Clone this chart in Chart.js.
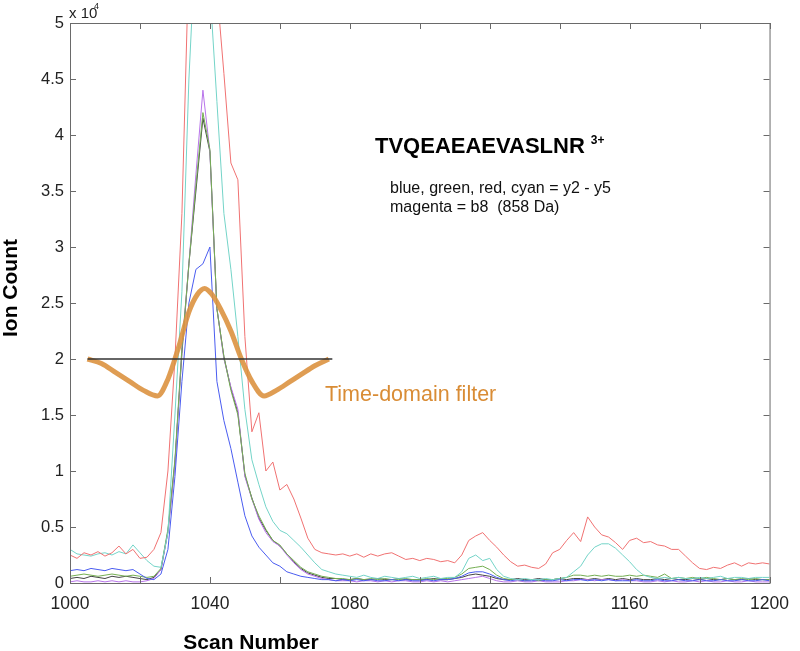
<!DOCTYPE html>
<html>
<head>
<meta charset="utf-8">
<script src="https://cdn.jsdelivr.net/npm/chart.js@4.4.0/dist/chart.umd.min.js"></script>
<style>
  html, body { margin: 0; padding: 0; background: #fff; }
</style>
</head>
<body>
<canvas id="ions" width="800" height="651"></canvas>
<script>
// scan numbers, every 2nd scan from 1000 to 1200
const scans = Array.from({ length: 101 }, (_, i) => 1000 + 2 * i);

// ion counts, in units of 10^4
const red = [
  0.25, 0.22, 0.27, 0.25, 0.28, 0.24, 0.27, 0.33, 0.26, 0.30,
  0.22, 0.23, 0.30, 0.45, 1.00, 2.00, 3.30, 5.60, 6.20, 6.50,
  6.30, 5.30, 4.55, 3.75, 3.60, 2.20, 1.35, 1.52, 1.00, 1.08,
  0.83, 0.88, 0.75, 0.58, 0.40, 0.30, 0.27, 0.26, 0.25, 0.26,
  0.24, 0.26, 0.23, 0.26, 0.24, 0.26, 0.27, 0.24, 0.21, 0.22,
  0.20, 0.22, 0.21, 0.19, 0.20, 0.18, 0.25, 0.38, 0.42, 0.45,
  0.38, 0.32, 0.25, 0.19, 0.15, 0.16, 0.14, 0.13, 0.17, 0.27,
  0.30, 0.38, 0.45, 0.37, 0.59, 0.50, 0.43, 0.41, 0.36, 0.30,
  0.38, 0.40, 0.36, 0.37, 0.34, 0.33, 0.30, 0.30, 0.24, 0.18,
  0.13, 0.12, 0.14, 0.13, 0.16, 0.18, 0.15, 0.18, 0.17, 0.18,
  0.17
];
const cyan = [
  0.30, 0.26, 0.25, 0.24, 0.26, 0.27, 0.25, 0.28, 0.26, 0.34,
  0.27, 0.20, 0.15, 0.14, 0.45, 1.50, 2.60, 4.50, 5.80, 6.00,
  5.30, 4.30, 3.30, 2.80, 2.20, 1.55, 1.10, 0.88, 0.68, 0.55,
  0.47, 0.44, 0.38, 0.32, 0.25, 0.18, 0.12, 0.10, 0.08, 0.07,
  0.06, 0.05, 0.07, 0.05, 0.04, 0.06, 0.05, 0.04, 0.05, 0.06,
  0.04, 0.05, 0.06, 0.04, 0.05, 0.05, 0.10, 0.22, 0.25, 0.20,
  0.22, 0.12, 0.06, 0.04, 0.03, 0.04, 0.03, 0.03, 0.04, 0.03,
  0.04, 0.05, 0.10, 0.15, 0.25, 0.32, 0.35, 0.35, 0.31, 0.25,
  0.19, 0.12, 0.07, 0.05, 0.04, 0.05, 0.04, 0.05, 0.04, 0.04,
  0.05, 0.04, 0.05, 0.06, 0.04, 0.05, 0.05, 0.04, 0.05, 0.05,
  0.05
];
const magenta = [
  0.01, 0.02, 0.01, 0.01, 0.02, 0.01, 0.02, 0.01, 0.02, 0.01,
  0.01, 0.02, 0.04, 0.12, 0.45, 1.05, 2.10, 2.85, 3.65, 4.40,
  3.85, 2.45, 2.00, 1.75, 1.55, 0.95, 0.75, 0.57, 0.45, 0.37,
  0.33, 0.25, 0.18, 0.12, 0.08, 0.06, 0.04, 0.03, 0.02, 0.02,
  0.02, 0.01, 0.02, 0.02, 0.01, 0.02, 0.01, 0.02, 0.02, 0.01,
  0.01, 0.02, 0.01, 0.02, 0.01, 0.02, 0.03, 0.04, 0.05, 0.06,
  0.04, 0.02, 0.01, 0.01, 0.02, 0.01, 0.01, 0.02, 0.01, 0.01,
  0.01, 0.02, 0.02, 0.03, 0.03, 0.02, 0.03, 0.03, 0.02, 0.03,
  0.02, 0.02, 0.01, 0.01, 0.02, 0.01, 0.02, 0.01, 0.01, 0.02,
  0.01, 0.02, 0.01, 0.01, 0.02, 0.01, 0.01, 0.02, 0.01, 0.01,
  0.01
];
const green = [
  0.06, 0.07, 0.08, 0.07, 0.06, 0.07, 0.08, 0.07, 0.06, 0.07,
  0.06, 0.05, 0.06, 0.13, 0.48, 1.10, 2.10, 2.85, 3.55, 4.20,
  3.87, 2.45, 2.02, 1.72, 1.50, 0.98, 0.75, 0.60, 0.48, 0.38,
  0.34, 0.26, 0.20, 0.14, 0.10, 0.08, 0.06, 0.05, 0.04, 0.04,
  0.03, 0.04, 0.03, 0.04, 0.03, 0.04, 0.03, 0.03, 0.04, 0.03,
  0.03, 0.04, 0.03, 0.04, 0.04, 0.05, 0.08, 0.13, 0.14, 0.15,
  0.12, 0.07, 0.04, 0.03, 0.03, 0.02, 0.03, 0.02, 0.03, 0.03,
  0.04, 0.05, 0.07, 0.07, 0.06, 0.07, 0.06, 0.07, 0.06, 0.06,
  0.07, 0.06, 0.07, 0.06, 0.05, 0.08, 0.04, 0.05, 0.04, 0.05,
  0.04, 0.05, 0.04, 0.03, 0.04, 0.03, 0.04, 0.03, 0.04, 0.03,
  0.03
];
const blue = [
  0.11, 0.12, 0.11, 0.13, 0.12, 0.11, 0.13, 0.12, 0.11, 0.12,
  0.08, 0.04, 0.03, 0.08, 0.30, 0.95, 1.80, 2.50, 2.80, 2.85,
  3.00, 1.80, 1.45, 1.20, 0.90, 0.60, 0.42, 0.32, 0.25, 0.18,
  0.15, 0.10, 0.08, 0.06, 0.05, 0.04, 0.03, 0.03, 0.02, 0.03,
  0.02, 0.03, 0.02, 0.03, 0.02, 0.02, 0.03, 0.02, 0.03, 0.02,
  0.02, 0.03, 0.02, 0.03, 0.03, 0.04, 0.06, 0.09, 0.10, 0.10,
  0.08, 0.05, 0.03, 0.02, 0.03, 0.02, 0.02, 0.03, 0.02, 0.02,
  0.03, 0.02, 0.03, 0.03, 0.02, 0.03, 0.02, 0.03, 0.02, 0.02,
  0.02, 0.03, 0.02, 0.02, 0.03, 0.02, 0.02, 0.03, 0.02, 0.02,
  0.03, 0.02, 0.02, 0.03, 0.02, 0.02, 0.03, 0.02, 0.02, 0.03,
  0.02
];
const black = [
  0.04, 0.05, 0.04, 0.06, 0.05, 0.04, 0.06, 0.05, 0.06, 0.05,
  0.04, 0.03, 0.05, 0.12, 0.46, 1.08, 2.05, 2.85, 3.50, 4.15,
  3.85, 2.45, 2.02, 1.74, 1.52, 0.96, 0.76, 0.58, 0.47, 0.38,
  0.33, 0.26, 0.19, 0.13, 0.09, 0.07, 0.05, 0.04, 0.04, 0.03,
  0.03, 0.04, 0.03, 0.03, 0.04, 0.03, 0.03, 0.04, 0.03, 0.03,
  0.03, 0.03, 0.04, 0.03, 0.03, 0.04, 0.05, 0.07, 0.08, 0.07,
  0.06, 0.04, 0.03, 0.03, 0.04, 0.03, 0.03, 0.04, 0.03, 0.03,
  0.04, 0.03, 0.04, 0.04, 0.03, 0.04, 0.03, 0.04, 0.03, 0.04,
  0.03, 0.04, 0.03, 0.03, 0.04, 0.03, 0.04, 0.03, 0.03, 0.04,
  0.03, 0.04, 0.03, 0.03, 0.04, 0.03, 0.03, 0.04, 0.03, 0.03,
  0.03
];

// time-domain filter shape and its baseline
const filterScans = [1005, 1009, 1013, 1017, 1021, 1025, 1028, 1031, 1034, 1036.5, 1038.5,
                     1040.5, 1043, 1046, 1049, 1052, 1055.5, 1059, 1063, 1066, 1070, 1074];
const filterVals  = [2.00, 1.96, 1.88, 1.80, 1.72, 1.67, 1.82, 2.10, 2.42, 2.58, 2.63,
                     2.58, 2.45, 2.25, 2.00, 1.80, 1.67, 1.72, 1.80, 1.86, 1.94, 2.00];
const baseScans = [1005, 1075];
const baseVals  = [2, 2];

const pts = (xs, ys) => xs.map((x, i) => ({ x, y: ys[i] }));

const ff = '"Liberation Sans", Arial, sans-serif';
Chart.defaults.font.family = ff;
Chart.defaults.color = '#222';

function line(data, color, width) {
  return {
    data, borderColor: color, borderWidth: width,
    pointRadius: 0, tension: 0, clip: 0, fill: false
  };
}

// frame with inward ticks + the text annotations
const frame = {
  id: 'frame',
  afterDraw(chart) {
    const { ctx, chartArea: a, scales: { x, y } } = chart;
    const tl = 6;
    ctx.save();
    ctx.strokeStyle = '#6a6a6a';
    ctx.lineWidth = 1;
    ctx.strokeRect(a.left + 0.5, a.top + 0.5, a.right - a.left, a.bottom - a.top);
    ctx.beginPath();
    x.ticks.forEach(t => {
      const px = Math.round(x.getPixelForValue(t.value)) + 0.5;
      ctx.moveTo(px, a.bottom); ctx.lineTo(px, a.bottom - tl);
      ctx.moveTo(px, a.top); ctx.lineTo(px, a.top + tl);
    });
    y.ticks.forEach(t => {
      const py = Math.round(y.getPixelForValue(t.value)) + 0.5;
      ctx.moveTo(a.left, py); ctx.lineTo(a.left + tl, py);
      ctx.moveTo(a.right, py); ctx.lineTo(a.right - tl, py);
    });
    ctx.stroke();

    ctx.fillStyle = '#222';
    ctx.textBaseline = 'alphabetic';
    ctx.textAlign = 'left';
    ctx.font = '15px ' + ff;
    ctx.fillText('x 10', 69, 18);
    ctx.font = '9px ' + ff;
    ctx.fillText('4', 94, 9);

    ctx.fillStyle = '#000';
    ctx.font = 'bold 22px ' + ff;
    ctx.fillText('TVQEAEAEVASLNR', 375, 153);
    const tw = ctx.measureText('TVQEAEAEVASLNR').width;
    ctx.font = 'bold 12px ' + ff;
    ctx.fillText('3+', 375 + tw + 6, 144);

    ctx.fillStyle = '#111';
    ctx.font = '16px ' + ff;
    ctx.fillText('blue, green, red, cyan = y2 - y5', 390, 193);
    ctx.fillText('magenta = b8  (858 Da)', 390, 212);

    ctx.fillStyle = '#d98c35';
    ctx.font = '21.5px ' + ff;
    ctx.fillText('Time-domain filter', 325, 401);

    ctx.fillStyle = '#000';
    ctx.font = 'bold 21px ' + ff;
    ctx.textAlign = 'center';
    ctx.fillText('Scan Number', 251, 649);
    ctx.translate(17, 288);
    ctx.rotate(-Math.PI / 2);
    ctx.fillText('Ion Count', 0, 0);
    ctx.restore();
  }
};

const filterLine = line(pts(filterScans, filterVals), 'rgba(220,146,64,0.9)', 5);
filterLine.cubicInterpolationMode = 'monotone';

new Chart(document.getElementById('ions'), {
  type: 'line',
  data: {
    datasets: [
      line(pts(baseScans, baseVals), '#333333', 1.5),
      filterLine,
      line(pts(scans, red), '#f07272', 1),
      line(pts(scans, cyan), '#74d4c8', 1),
      line(pts(scans, blue), '#4a5cf0', 1),
      line(pts(scans, green), '#74ae52', 1),
      line(pts(scans, magenta), '#b874ea', 1),
      line(pts(scans, black), '#444444', 1)
    ]
  },
  options: {
    responsive: false,
    animation: false,
    events: [],
    layout: { padding: { top: 23, right: 16, left: 0, bottom: 0 } },
    plugins: { legend: { display: false }, tooltip: { enabled: false } },
    scales: {
      x: {
        type: 'linear', min: 1000, max: 1200,
        grid: { display: false, drawTicks: false },
        border: { display: false },
        afterFit: s => { s.height = 68; },
        ticks: {
          stepSize: 20, autoSkip: false, maxRotation: 0, padding: 11,
          font: { size: 17.5 }, color: '#222',
          callback: v => (v % 40 === 0 ? String(v) : '')
        }
      },
      y: {
        min: 0, max: 5,
        grid: { display: false, drawTicks: false },
        border: { display: false },
        afterFit: s => { s.width = 70; },
        ticks: {
          stepSize: 0.5, padding: 6,
          font: { size: 16.5 }, color: '#222',
          callback: v => String(v)
        }
      }
    }
  },
  plugins: [frame]
});
</script>
</body>
</html>
